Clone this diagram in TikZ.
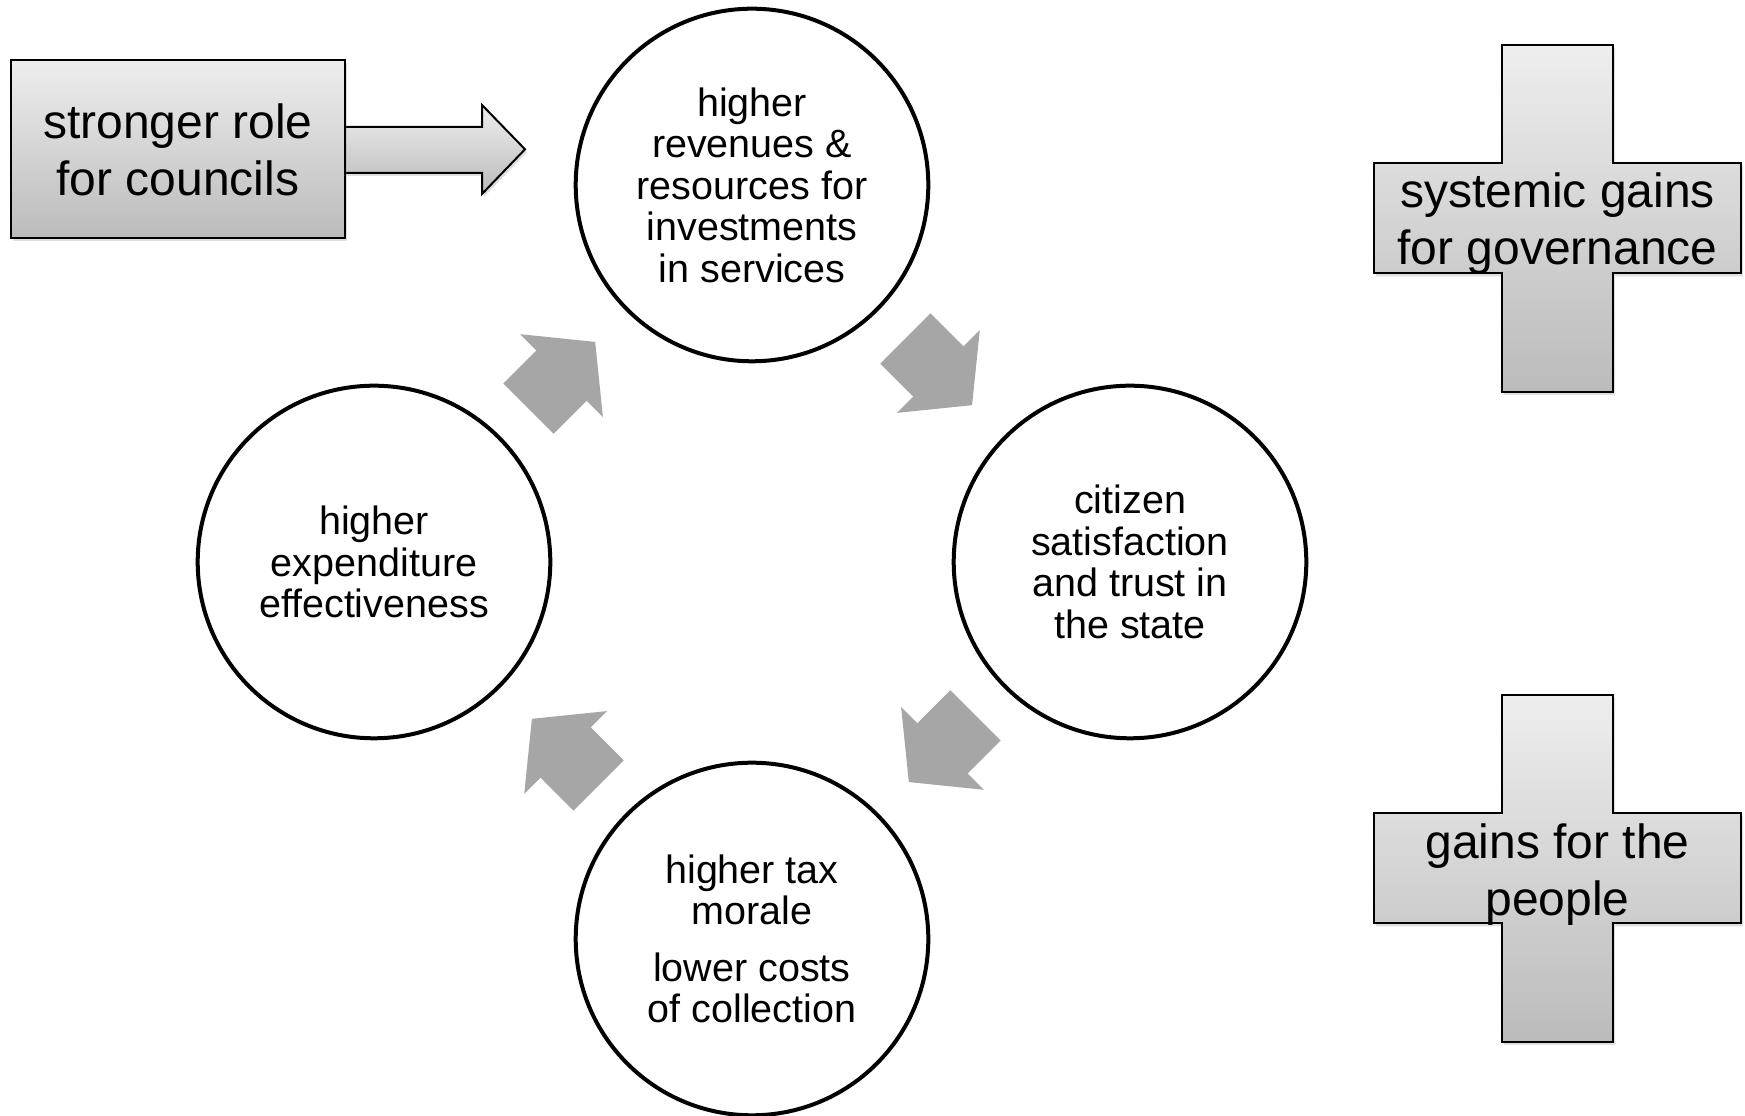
\documentclass[tikz,border=0pt]{standalone}
\usepackage{fontspec}
\setmainfont{Liberation Sans}
\usetikzlibrary{shadows}
\definecolor{arrowgray}{HTML}{A6A6A6}
\definecolor{gradtop}{HTML}{EEEEEE}
\definecolor{gradbot}{HTML}{BBBBBB}
\newcommand\cyclearrowat[2]{%
  \fill[cyclearrow, shift={(#1)}, rotate=#2]
    (0,-35.5) -- (46.7,-35.5) -- (46.7,-58.5) -- (94.3,0) --
    (46.7,58.5) -- (46.7,35.5) -- (0,35.5) -- cycle;}
\newcommand\plusshape[1]{%
  \path[gradshape, shift={(#1)}]
    (-55.5,173.5) -- (55.5,173.5) -- (55.5,55) -- (183.5,55) --
    (183.5,-55) -- (55.5,-55) -- (55.5,-173.5) -- (-55.5,-173.5) --
    (-55.5,-55) -- (-183.5,-55) -- (-183.5,55) -- (-55.5,55) -- cycle;}
\begin{document}
\begin{tikzpicture}[x=1pt,y=1pt,
  cyc/.style={circle, draw=black, line width=4pt, fill=white,
    minimum size=352.6pt, inner sep=0pt, align=center,
    font=\fontsize{39.5pt}{41.5pt}\selectfont},
  gradshape/.style={draw=black, line width=2pt, top color=gradtop,
    bottom color=gradbot,
    drop shadow={shadow xshift=2pt, shadow yshift=-3pt, opacity=0.25}},
  cyclearrow/.style={fill=arrowgray, draw=none},
  plustext/.style={align=center, inner sep=0pt,
    font=\fontsize{48pt}{57pt}\selectfont},
]
\useasboundingbox (0,0) rectangle (1745,1116);
\fill[white] (0,0) rectangle (1745,1116);

% cycle circles
\node[cyc] (top) at (752,931) {higher\\revenues \&\\resources for\\investments\\in services};
\node[cyc] (right) at (1130,554) {citizen\\satisfaction\\and trust in\\the state};
\node[cyc] (bottom) at (752,177) {higher tax\\morale\\[15pt]lower costs\\of collection};
\node[cyc] (left) at (374,554) {higher\\expenditure\\effectiveness};

% cycle arrows
\coordinate (a1) at (528.5,707.4);
\coordinate (a2) at (905.4,777.5);
\coordinate (a3) at (975.5,400.6);
\coordinate (a4) at (598.6,330.5);
\cyclearrowat{a1}{45}
\cyclearrowat{a2}{-45}
\cyclearrowat{a3}{-135}
\cyclearrowat{a4}{135}

% stronger role box with arrow
\path[gradshape] (320,943) -- (482,943) -- (482,922) -- (525,966.7) --
  (482,1011) -- (482,989) -- (320,989) -- cycle;
\node[gradshape, rectangle, minimum width=334.7pt, minimum height=178.3pt,
  inner sep=0pt] (role) at (178,966.9) {};
\node[plustext] (roletxt) at ([yshift=-1pt]role.center) {stronger role\\for councils};

% plus shapes
\coordinate (p1) at (1557.5,897.5);
\coordinate (p2) at (1557.5,247.5);
\plusshape{p1}
\plusshape{p2}
\node[plustext] (gov) at ([yshift=-5pt]p1) {systemic gains\\for governance};
\node[plustext] (people) at ([yshift=-6pt]p2) {gains for the\\people};
\end{tikzpicture}
\end{document}
